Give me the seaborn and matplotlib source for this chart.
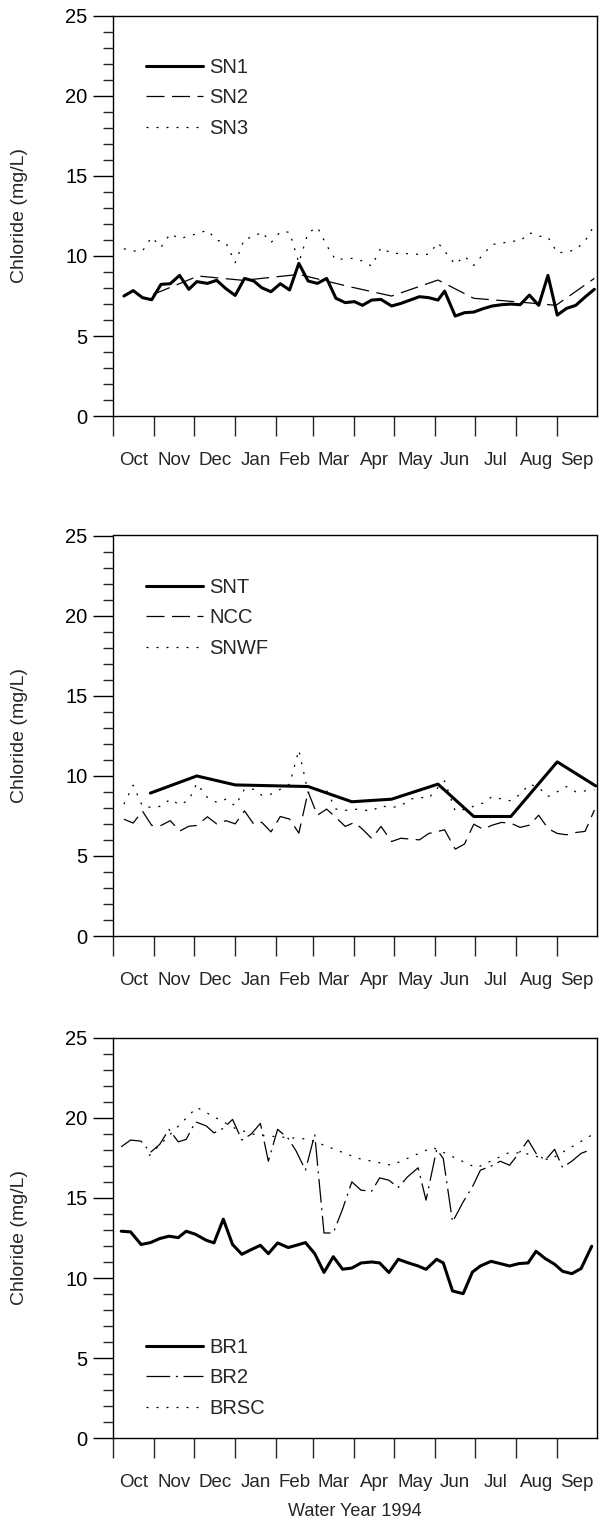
import numpy as np
import pandas as pd
import matplotlib
matplotlib.use("Agg")
import matplotlib.pyplot as plt
import matplotlib.dates as mdates
from matplotlib.ticker import MultipleLocator, FixedLocator, NullFormatter, FixedFormatter
import seaborn as sns

# ---------------- data ----------------
start = "1993-10-01"
month_labels = ["Oct", "Nov", "Dec", "Jan", "Feb", "Mar", "Apr", "May", "Jun", "Jul", "Aug", "Sep"]

# weekly sampling days (days after Oct 1, 1993) - upper two panels
days_sn = [8, 15, 22, 29, 36, 43, 50, 57, 63, 71, 78, 85, 92, 99, 106, 112, 119, 126, 133, 140,
           147, 154, 161, 168, 175, 182, 188, 195, 202, 210, 217, 224, 231, 238, 245, 250, 258,
           265, 272, 279, 286, 293, 300, 307, 314, 321, 328, 335, 342, 349, 356, 363]

sn1 = [7.5, 7.84, 7.4, 7.27, 8.23, 8.27, 8.79, 7.92, 8.4, 8.29, 8.48, 7.96, 7.54, 8.6, 8.44, 8.02,
       7.77, 8.27, 7.88, 9.54, 8.44, 8.29, 8.6, 7.36, 7.09, 7.15, 6.92, 7.25, 7.29, 6.88, 7.04, 7.25,
       7.46, 7.40, 7.25, 7.81, 6.25, 6.46, 6.50, 6.71, 6.88, 6.96, 7.0, 6.96, 7.56, 6.92, 8.79, 6.31,
       6.73, 6.92, 7.44, 7.92]

days_sn2 = [30, 64, 98, 140, 178, 210, 245, 272, 306, 334, 363]
sn2 = [7.6, 8.75, 8.48, 8.85, 8.09, 7.5, 8.5, 7.36, 7.13, 6.92, 8.6]

sn3 = [10.45, 10.31, 10.31, 11.18, 10.55, 11.39, 11.08, 11.24, 11.39, 11.61, 10.99, 10.83, 9.58,
       11.08, 11.18, 11.51, 10.83, 11.51, 11.49, 9.58, 11.45, 11.8, 10.66, 9.74, 9.85, 9.85, 9.68,
       9.37, 10.52, 10.16, 10.16, 10.14, 10.1, 10.1, 10.83, 10.3, 9.48, 9.99, 9.41, 10.1, 10.72,
       10.79, 10.93, 10.93, 11.45, 11.24, 11.18, 10.2, 10.24, 10.41, 10.93, 11.93]

days_snt = [28, 63, 92, 147, 180, 210, 245, 272, 300, 335, 364]
snt = [8.92, 9.99, 9.43, 9.33, 8.38, 8.54, 9.48, 7.46, 7.46, 10.87, 9.37]

ncc = [7.29, 7.05, 7.8, 6.9, 6.9, 7.2, 6.55, 6.85, 6.9, 7.44, 7.0, 7.2, 7.0, 7.81, 6.98, 7.1, 6.5,
       7.46, 7.3, 6.42, 9.0, 7.54, 7.92, 7.4, 6.84, 7.09, 6.67, 6.09, 6.84, 5.9, 6.1, 6.05, 6.0, 6.4,
       6.53, 6.63, 5.42, 5.74, 6.98, 6.67, 6.92, 7.09, 7.04, 6.78, 6.92, 7.54, 6.71, 6.4, 6.32, 6.46,
       6.53, 7.86]

snwf = [8.23, 9.41, 8.1, 8.02, 8.1, 8.54, 8.19, 8.48, 9.52, 8.65, 8.34, 8.54, 8.12, 9.16, 9.16,
        8.79, 8.85, 9.16, 9.48, 11.61, 8.96, 9.16, 9.06, 7.92, 7.84, 7.92, 7.87, 7.81, 8.12, 8.02,
        8.12, 8.54, 8.65, 8.6, 9.27, 9.68, 7.81, 7.9, 8.1, 8.3, 8.71, 8.54, 8.44, 8.85, 9.48, 9.27,
        8.71, 9.0, 9.33, 9.0, 9.06, 9.12]

# lower panel
days_br = [6, 13, 21, 28, 35, 42, 49, 55, 62, 70, 76, 83, 90, 97, 104, 111, 117, 124, 132, 138,
           145, 152, 159, 166, 173, 180, 187, 195, 201, 208, 215, 222, 230, 236, 244, 249, 256,
           264, 271, 277, 285, 292, 299, 306, 313, 319, 326, 333, 339, 346, 353, 361]

br1 = [12.92, 12.88, 12.09, 12.21, 12.46, 12.61, 12.52, 12.92, 12.73, 12.36, 12.19, 13.67, 12.09,
       11.48, 11.77, 12.04, 11.52, 12.19, 11.9, 12.04, 12.21, 11.52, 10.35, 11.33, 10.55, 10.62,
       10.94, 11.0, 10.94, 10.34, 11.17, 10.96, 10.75, 10.54, 11.17, 10.94, 9.19, 9.02, 10.37,
       10.75, 11.04, 10.9, 10.75, 10.9, 10.94, 11.67, 11.21, 10.86, 10.42, 10.27, 10.59, 11.98]

br2 = [18.19, 18.61, 18.54, 17.84, 18.34, 19.28, 18.5, 18.65, 19.75, 19.5, 19.06, 19.34, 19.9,
       18.61, 18.98, 19.65, 17.29, 19.28, 18.71, 17.92, 16.73, 18.96, 12.81, 12.81, 14.3, 16.0,
       15.48, 15.42, 16.25, 16.1, 15.65, 16.31, 16.88, 14.86, 18.03, 17.46, 13.5, 14.75, 15.69,
       16.73, 16.98, 17.29, 17.04, 17.78, 18.61, 17.78, 17.36, 18.03, 16.9, 17.29, 17.78, 18.03]

days_brsc = [27, 63, 92, 108, 147, 185, 210, 241, 274, 299, 311, 329, 363]
brsc = [17.63, 20.65, 19.34, 18.92, 18.67, 17.46, 17.04, 18.15, 16.88, 17.84, 17.78, 17.36, 19.02]

# ---------------- style ----------------
sns.set_theme(style="ticks")
plt.rcParams["font.family"] = ["Liberation Sans", "DejaVu Sans"]
plt.rcParams["font.size"] = 14
plt.rcParams["axes.linewidth"] = 1.0

t0 = pd.Timestamp(start)


def to_dates(d):
    return t0 + pd.to_timedelta(np.asarray(d), unit="D")


bounds = pd.date_range(start, periods=13, freq="MS")
bnum = mdates.date2num(bounds)
mids = (bnum[:-1] + bnum[1:]) / 2.0

thick = dict(color="black", lw=2.2, linestyle="-")
dash = dict(color="black", lw=0.9, linestyle=(0, (14.4, 6.0)))
dot = dict(color="black", lw=0.9, linestyle=(0, (1.6, 6.4)))
dashdot = dict(color="black", lw=0.9, linestyle=(0, (19.0, 4.5, 1.6, 4.5)))

fig = plt.figure(figsize=(6.03, 15.37), dpi=100)
W, H = 603.0, 1537.0
left, right = 113.3, 597.0
tops = [15.7, 535.5, 1037.7]
height = 400.5

panels = [
    [("SN1", days_sn, sn1, thick), ("SN2", days_sn2, sn2, dash), ("SN3", days_sn, sn3, dot)],
    [("SNT", days_snt, snt, thick), ("NCC", days_sn, ncc, dash), ("SNWF", days_sn, snwf, dot)],
    [("BR1", days_br, br1, thick), ("BR2", days_br, br2, dashdot), ("BRSC", days_brsc, brsc, dot)],
]

for i, (top, series) in enumerate(zip(tops, panels)):
    ax = fig.add_axes([left / W, 1 - (top + height) / H, (right - left) / W, height / H])
    for name, d, v, st in series:
        df = pd.DataFrame({"date": to_dates(d), "value": v})
        sns.lineplot(data=df, x="date", y="value", ax=ax, label=name, estimator=None,
                     sort=False, **st)
    ax.set_xlim(bnum[0], bnum[-1])
    ax.set_ylim(0, 25)
    ax.yaxis.set_major_locator(MultipleLocator(5))
    ax.yaxis.set_minor_locator(MultipleLocator(1))
    ax.xaxis.set_major_locator(FixedLocator(bnum[:-1]))
    ax.xaxis.set_major_formatter(NullFormatter())
    ax.xaxis.set_minor_locator(FixedLocator(mids))
    ax.xaxis.set_minor_formatter(FixedFormatter(month_labels))
    ax.tick_params(axis="y", which="major", direction="out", length=14.5, width=1.0,
                   labelsize=14.5, pad=4, colors="black")
    ax.tick_params(axis="y", which="minor", direction="out", length=7.5, width=1.0)
    ax.tick_params(axis="x", which="major", direction="out", length=14.5, width=1.0)
    ax.tick_params(axis="x", which="minor", length=0, pad=26, labelsize=13.5)
    for s in ax.spines.values():
        s.set_visible(True)
        s.set_color("black")
        s.set_linewidth(1.0)
    ax.set_xlabel("")
    ax.set_ylabel("Chloride (mg/L)", fontsize=14)
    ax.yaxis.set_label_coords(-0.176, 0.5)
    ax.set_facecolor("white")
    if i < 2:
        ax.legend(loc="upper left", bbox_to_anchor=(0.068, 0.895), frameon=False,
                  borderpad=0, borderaxespad=0, handlelength=2.8, handletextpad=0.35,
                  labelspacing=0.58, fontsize=14.5)
    else:
        ax.legend(loc="lower left", bbox_to_anchor=(0.068, 0.05), frameon=False,
                  borderpad=0, borderaxespad=0, handlelength=2.8, handletextpad=0.35,
                  labelspacing=0.58, fontsize=14.5)

fig.text(355.0 / W, 1 - 1512.0 / H, "Water Year 1994", ha="center", va="center", fontsize=13)
fig.savefig("out.png", dpi=100, facecolor="white")
